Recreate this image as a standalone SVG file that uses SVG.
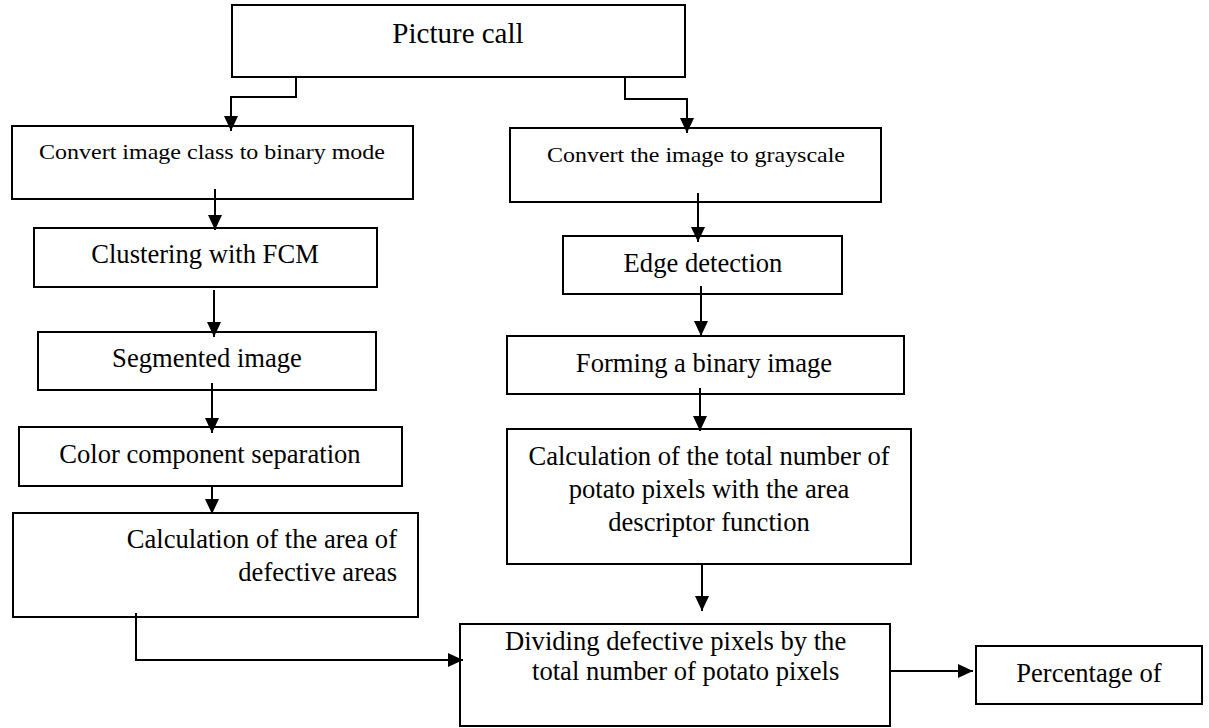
<svg xmlns="http://www.w3.org/2000/svg" width="1209" height="728" viewBox="0 0 1209 728">
<style>
.box{fill:#fff;stroke:#000;stroke-width:2}
.t{font-family:"Liberation Serif","Times New Roman",serif;font-size:26.6px;fill:#000}
.c{text-anchor:middle}
.con{fill:none;stroke:#000;stroke-width:2}
</style>
<defs>
<marker id="ah" markerUnits="userSpaceOnUse" markerWidth="15" markerHeight="14" refX="15" refY="7" orient="auto">
<path d="M0,0 L15,7 L0,14 z" fill="#000"/>
</marker>
</defs>
<rect width="1209" height="728" fill="#fff"/>
<g id="n-picture"><rect class="box" x="232" y="5" width="453" height="72"/><text class="t c" x="458" y="43" style="font-size:29px">Picture call</text></g>
<g id="n-convert-binary"><rect class="box" x="12" y="126" width="401" height="73"/><text class="t c" x="212" y="159" style="font-size:22px" textLength="346" lengthAdjust="spacingAndGlyphs">Convert image class to binary mode</text></g>
<g id="n-grayscale"><rect class="box" x="510" y="128" width="371" height="74"/><text class="t c" x="696" y="162" style="font-size:22px" textLength="298" lengthAdjust="spacingAndGlyphs">Convert the image to grayscale</text></g>
<g id="n-clustering"><rect class="box" x="34" y="228" width="343" height="59"/><text class="t c" x="205" y="263">Clustering with FCM</text></g>
<g id="n-segmented"><rect class="box" x="38" y="332" width="338" height="58"/><text class="t c" x="207" y="367">Segmented image</text></g>
<g id="n-color"><rect class="box" x="19" y="427" width="383" height="59"/><text class="t c" x="210" y="463">Color component separation</text></g>
<g id="n-area"><rect class="box" x="13" y="513" width="405" height="104"/><text class="t" x="397" y="548" text-anchor="end">Calculation of the area of</text><text class="t" x="397" y="581" text-anchor="end">defective areas</text></g>
<g id="n-edge"><rect class="box" x="563" y="236" width="279" height="58"/><text class="t c" x="703" y="272">Edge detection</text></g>
<g id="n-forming"><rect class="box" x="507" y="336" width="397" height="58"/><text class="t c" x="704" y="372">Forming a binary image</text></g>
<g id="n-total"><rect class="box" x="507" y="429" width="404" height="135"/><text class="t c" x="709" y="465">Calculation of the total number of</text><text class="t c" x="709" y="498">potato pixels with the area</text><text class="t c" x="709" y="531">descriptor function</text></g>
<g id="n-dividing"><rect class="box" x="460" y="624" width="430" height="102"/><text class="t" x="505" y="650">Dividing defective pixels by the</text><text class="t" x="532" y="680">total number of potato pixels</text></g>
<g id="n-percentage"><rect class="box" x="976" y="646" width="226" height="58"/><text class="t c" x="1089" y="682">Percentage of</text></g>
<g id="connectors">
<path class="con" d="M296,77 V97 H231 V131" marker-end="url(#ah)"/>
<path class="con" d="M625,77 V99 H687 V133" marker-end="url(#ah)"/>
<path class="con" d="M215,189 V230" marker-end="url(#ah)"/>
<path class="con" d="M214,290 V337" marker-end="url(#ah)"/>
<path class="con" d="M212,383 V433" marker-end="url(#ah)"/>
<path class="con" d="M212,486 V514" marker-end="url(#ah)"/>
<path class="con" d="M698,193 V242" marker-end="url(#ah)"/>
<path class="con" d="M701,286 V336" marker-end="url(#ah)"/>
<path class="con" d="M700,388 V431" marker-end="url(#ah)"/>
<path class="con" d="M702,565 V611" marker-end="url(#ah)"/>
<path class="con" d="M136,613 V660 H463" marker-end="url(#ah)"/>
<path class="con" d="M890,671 H973" marker-end="url(#ah)"/>
</g>
</svg>
